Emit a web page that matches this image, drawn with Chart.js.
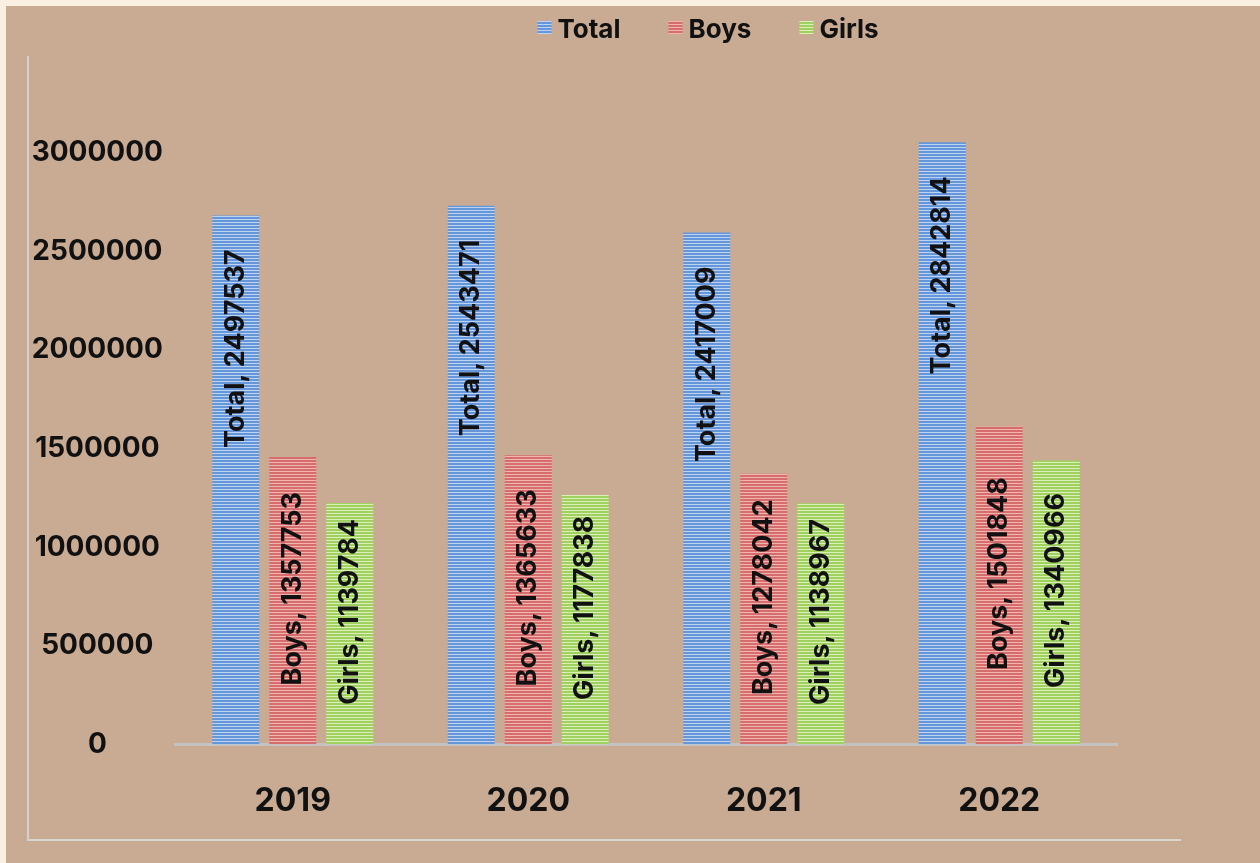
<!DOCTYPE html>
<html>
<head>
<meta charset="utf-8">
<script src="https://cdn.jsdelivr.net/npm/chart.js@4.4.1/dist/chart.umd.min.js"></script>
<style>
  html, body { margin: 0; padding: 0; }
  body { width: 1260px; height: 863px; background: #f9f0e1; position: relative; overflow: hidden; }
  #fundo { position: absolute; left: 6px; top: 6px; right: 0; bottom: 0; background: #c9ab94; }
  #moldura { position: absolute; left: 27px; top: 56px; width: 1152px; height: 783px;
             border-left: 2px solid #d3d0cd; border-bottom: 2px solid #d9d5d0; }
  #grafico { position: absolute; left: 0; top: 0; }
</style>
</head>
<body>
<div id="fundo"></div>
<div id="moldura"></div>
<canvas id="grafico" width="1260" height="863"></canvas>
<script>
const anos = ['2019', '2020', '2021', '2022'];
const total = [2497537, 2543471, 2417009, 2842814];
const boys = [1357753, 1365633, 1278042, 1501848];
const girls = [1139784, 1177838, 1138967, 1340966];
const marcasEixo = [0, 500000, 1000000, 1500000, 2000000, 2500000, 3000000];

const fonte = 'Inter';

// barras com listras horizontais
function listras(base, clara) {
  const c = document.createElement('canvas');
  c.width = 4; c.height = 3;
  const g = c.getContext('2d');
  g.fillStyle = base; g.fillRect(0, 0, 4, 3);
  g.fillStyle = clara; g.fillRect(0, 0, 4, 1);
  return g.createPattern(c, 'repeat');
}

const azul = listras('#6696da', '#bcd3f2');
const vermelho = listras('#d56d6c', '#f2b4b1');
const verde = listras('#a0d060', '#daf0b6');

// rótulos verticais dentro das barras
const rotulos = {
  id: 'rotulos',
  afterDatasetsDraw(chart) {
    const ctx = chart.ctx;
    ctx.save();
    ctx.font = `bold 27px ${fonte}`;
    ctx.fillStyle = '#111';
    ctx.textBaseline = 'middle';
    chart.data.datasets.forEach((ds, i) => {
      chart.getDatasetMeta(i).data.forEach((bar, j) => {
        const texto = ds.label + ', ' + ds.data[j];
        ctx.save();
        if (i === 0) {
          ctx.translate(bar.x, bar.y + 34);
          ctx.textAlign = 'right';
        } else {
          ctx.translate(bar.x, (bar.y + bar.base) / 2 - 12);
          ctx.textAlign = 'center';
        }
        ctx.rotate(-Math.PI / 2);
        ctx.fillText(texto, 0, 0);
        ctx.restore();
      });
    });
    ctx.restore();
  }
};

// legenda no topo
const legenda = {
  id: 'legenda',
  afterDraw(chart) {
    const ctx = chart.ctx;
    ctx.save();
    ctx.font = `bold 26px ${fonte}`;
    ctx.textBaseline = 'alphabetic';
    ctx.textAlign = 'left';
    const caixa = 14, folga = 6, espaco = 48;
    const itens = chart.data.datasets.map(ds => ({ ds, w: ctx.measureText(ds.label).width }));
    const larg = itens.reduce((s, it) => s + caixa + folga + it.w, 0) + espaco * (itens.length - 1);
    let x = 708 - larg / 2;
    itens.forEach(it => {
      ctx.fillStyle = it.ds.backgroundColor;
      ctx.fillRect(x, 21, caixa, 13);
      ctx.fillStyle = '#111';
      ctx.fillText(it.ds.label, x + caixa + folga, 38);
      x += caixa + folga + it.w + espaco;
    });
    ctx.restore();
  }
};

const ctx = document.getElementById('grafico').getContext('2d');
new Chart(ctx, {
  type: 'bar',
  data: {
    labels: anos,
    datasets: [
      { label: 'Total', data: total, backgroundColor: azul },
      { label: 'Boys', data: boys, backgroundColor: vermelho },
      { label: 'Girls', data: girls, backgroundColor: verde }
    ]
  },
  options: {
    responsive: false,
    animation: false,
    categoryPercentage: 0.726,
    barPercentage: 0.825,
    layout: { padding: { top: 109, right: 143, bottom: 4, left: 0 } },
    plugins: {
      legend: { display: false },
      tooltip: { enabled: false }
    },
    scales: {
      x: {
        grid: { display: false, drawTicks: false },
        border: { display: true, color: '#c4c2c0', width: 3 },
        ticks: { color: '#111', padding: 38, font: { family: fonte, size: 32, weight: 'bold' } }
      },
      y: {
        display: false,
        min: 0,
        max: 3000000
      },
      escala: {
        position: 'left',
        min: 0,
        max: 3220000,
        afterBuildTicks: s => { s.ticks = marcasEixo.map(v => ({ value: v })); },
        afterFit: s => { s.width = 175; },
        grid: { display: false, drawTicks: false },
        border: { display: false },
        ticks: {
          crossAlign: 'center',
          padding: 12,
          color: '#111',
          font: { family: fonte, size: 28, weight: 'bold' },
          callback: v => String(v)
        }
      }
    }
  },
  plugins: [rotulos, legenda]
});
</script>
</body>
</html>
